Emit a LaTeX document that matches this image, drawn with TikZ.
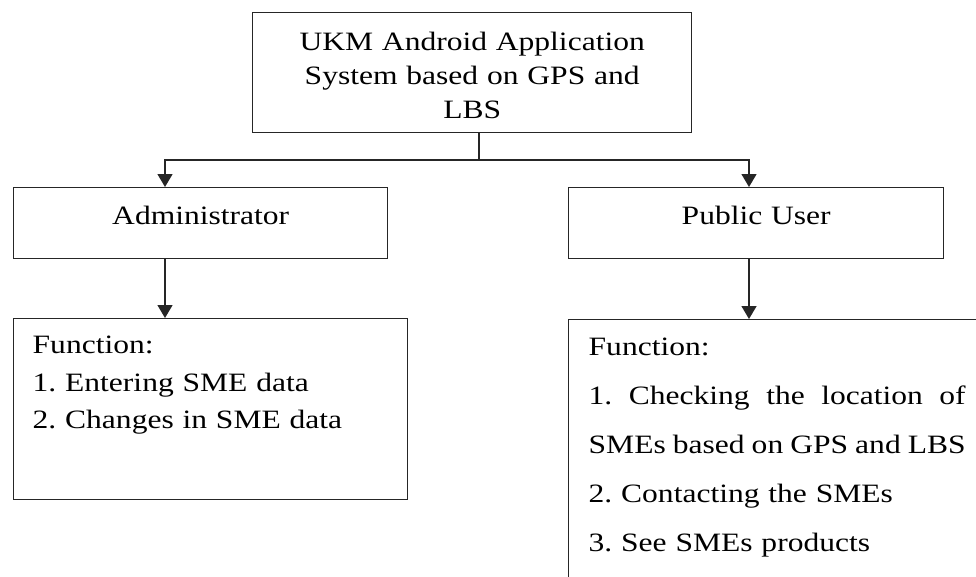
\documentclass[tikz,border=0pt]{standalone}
\usepackage{fontspec}
\setmainfont{Liberation Serif}[FakeStretch=1.19]
\usetikzlibrary{arrows.meta}
\newcommand{\gp}{\hskip 3pt plus 1fil\relax}
\newcommand{\jline}[1]{\leavevmode\hbox to 377pt{#1}}
\begin{document}
\frenchspacing
\begin{tikzpicture}[x=1pt,y=1pt,
  box/.style={draw=black!85, line width=1.4pt, rectangle, inner sep=0pt},
  arr/.style={draw=black!85, line width=1.4pt, -{Triangle[width=15pt,length=13pt]}},
  ln/.style={draw=black!85, line width=1.4pt},
  txt/.style={font=\fontsize{26.5}{34}\selectfont}]
\useasboundingbox (0,0) rectangle (976,-576);
\clip (0,0) rectangle (976,-576);
\node[box, txt, anchor=north west, text width=439pt, text height=38pt, text depth=82pt, align=center] (sys) at (252,-12)
  {UKM Android Application\\System based on GPS and\\LBS};
\node[box, txt, anchor=north west, text width=374pt, align=center, text height=37pt, text depth=34pt] (admin) at (13,-187) {Administrator};
\node[box, txt, anchor=north west, text width=375pt, align=center, text height=37pt, text depth=34pt] (pub) at (568,-187) {Public User};
\node[box, anchor=north west, inner xsep=19pt, inner ysep=0pt, text width=356pt, align=left, text height=35pt, text depth=146pt,
  font=\fontsize{26.5}{37.5}\selectfont] (fadmin) at (13,-318)
  {Function:\\1. Entering SME data\\2. Changes in SME data};
\node[box, anchor=north west, inner xsep=20pt, inner ysep=0pt, text width=377pt, align=left, text height=36pt, text depth=300pt,
  font=\fontsize{26.5}{49}\selectfont] (fpub) at (568,-319)
  {Function:\\\jline{1.\gp Checking\gp the\gp location\gp of}\\\jline{SMEs\gp based\gp on\gp GPS\gp and\gp LBS}\\2. Contacting the SMEs\\3. See SMEs products};
\coordinate (j) at (479,-160);
\coordinate (al) at (165,-160);
\coordinate (ar) at (749,-160);
\draw[ln] (j |- sys.south) -- (j);
\draw[arr] (j) -- (al) -- (al |- admin.north);
\draw[arr] (j) -- (ar) -- (ar |- pub.north);
\draw[arr] (al |- admin.south) -- (al |- fadmin.north);
\draw[arr] (ar |- pub.south) -- (ar |- fpub.north);
\end{tikzpicture}
\end{document}
